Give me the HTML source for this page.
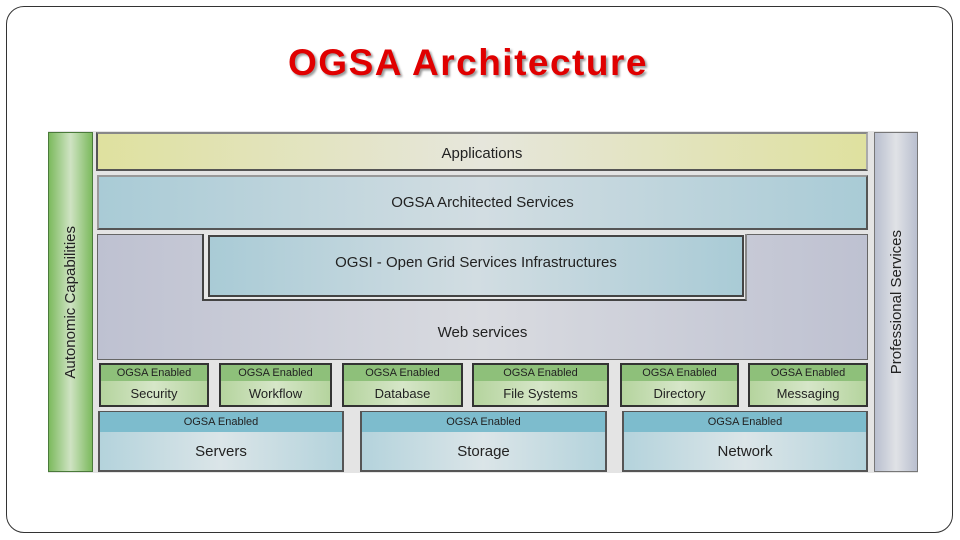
<!DOCTYPE html>
<html><head><style>
body{margin:0;width:960px;height:540px;background:#fff;position:relative;font-family:"Liberation Sans",sans-serif;overflow:hidden}
.a{position:absolute;box-sizing:border-box}
.frame{left:6px;top:6px;width:947px;height:527px;border:1.5px solid #333;border-radius:18px}
.title{left:0;width:936px;top:42px;text-align:center;color:#e00000;font-weight:bold;font-size:37px;letter-spacing:1.5px;text-shadow:2px 2px 2px #999}
.t{display:flex;align-items:center;justify-content:center;color:#222;font-size:15px}
.blue{background:linear-gradient(90deg,#a9cbd6,#d2dde2 50%,#a9cbd6);border:2px solid #555;border-top-color:#999;border-left-color:#999}
.g{border:2px solid #333;background:linear-gradient(90deg,#b5d49e,#d6e6c8 50%,#b5d49e)}
.g .h{height:16px;background:#8ec07a;font-size:11px;color:#222;text-align:center;line-height:16px}
.g .b{font-size:13px;color:#222;text-align:center;line-height:25px}
.s{border:2px solid #555;border-top:1px solid #555;background:linear-gradient(90deg,#b4d3dc,#dbe5e8 50%,#b4d3dc)}
.s .h{height:20px;background:#7dbccd;font-size:11px;text-align:center;line-height:20px;color:#222}
.s .b{font-size:15px;text-align:center;line-height:40px;color:#222}
.v{writing-mode:vertical-rl;transform:rotate(180deg);font-size:15px;color:#222}
</style></head><body>
<div class="a frame"></div>
<div class="a title">OGSA Architecture</div>
<div class="a" style="left:48px;top:131px;width:870px;height:342px;background:#e4e4e4"></div>
<div class="a t" style="left:48px;top:132px;width:45px;height:340px;background:linear-gradient(90deg,#7cba5e,#cfe3c3 50%,#7cba5e);border:1px solid #4a7a3a"><span class="v">Autonomic Capabilities</span></div>
<div class="a t" style="left:874px;top:132px;width:44px;height:340px;background:linear-gradient(90deg,#b9bfcf,#e0e2e6 50%,#b9bfcf);border:1px solid #777"><span class="v">Professional Services</span></div>
<div class="a t" style="left:96px;top:132px;width:772px;height:39px;padding-top:4px;background:linear-gradient(90deg,#dfe19f,#e6e6dc 50%,#dfe19f);border:2px solid #555;border-top-color:#888;border-right-color:#aaa">Applications</div>
<div class="a t blue" style="left:97px;top:175px;width:771px;height:55px">OGSA Architected Services</div>
<div class="a t" style="left:97px;top:234px;width:771px;height:126px;background:linear-gradient(90deg,#bec1d1,#d9dbe0 50%,#bec1d1);border:1px solid #666;align-items:flex-end;padding-bottom:18px">Web services</div>
<div class="a" style="left:202px;top:234px;width:545px;height:67px;background:#e8e8e8;border-left:2px solid #444;border-bottom:2px solid #444;border-right:2px solid #888"></div>
<div class="a t blue" style="left:208px;top:235px;width:536px;height:62px;border-color:#444;padding-bottom:8px">OGSI - Open Grid Services Infrastructures</div>
<div class="a g" style="left:99px;top:363px;width:110px;height:44px"><div class="h">OGSA Enabled</div><div class="b">Security</div></div>
<div class="a g" style="left:219px;top:363px;width:113px;height:44px"><div class="h">OGSA Enabled</div><div class="b">Workflow</div></div>
<div class="a g" style="left:342px;top:363px;width:121px;height:44px"><div class="h">OGSA Enabled</div><div class="b">Database</div></div>
<div class="a g" style="left:472px;top:363px;width:137px;height:44px"><div class="h">OGSA Enabled</div><div class="b">File Systems</div></div>
<div class="a g" style="left:620px;top:363px;width:119px;height:44px"><div class="h">OGSA Enabled</div><div class="b">Directory</div></div>
<div class="a g" style="left:748px;top:363px;width:120px;height:44px"><div class="h">OGSA Enabled</div><div class="b">Messaging</div></div>
<div class="a s" style="left:98px;top:411px;width:246px;height:61px"><div class="h">OGSA Enabled</div><div class="b">Servers</div></div>
<div class="a s" style="left:360px;top:411px;width:247px;height:61px"><div class="h">OGSA Enabled</div><div class="b">Storage</div></div>
<div class="a s" style="left:622px;top:411px;width:246px;height:61px"><div class="h">OGSA Enabled</div><div class="b">Network</div></div>
</body></html>
